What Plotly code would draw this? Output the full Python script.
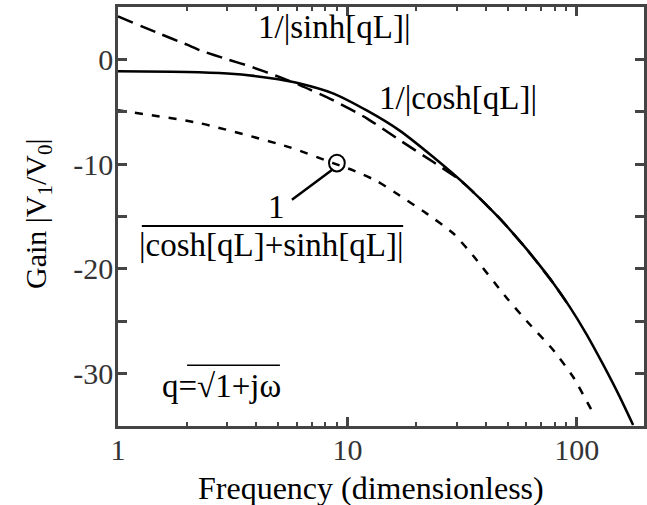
import math
import plotly.graph_objects as go

# ---- data ----
cosh_x = [1, 2, 3, 4, 5, 6.2, 8.65, 12.2, 16.9, 23.6, 33.2, 46.2, 59.3, 68, 78.6, 93, 110, 130, 153, 176]
cosh_y = [-1.14, -1.2, -1.35, -1.6, -1.9, -2.3, -3.24, -4.9, -6.8, -9.3, -12.1, -15.2, -17.9, -19.5, -21.3, -23.6, -26.2, -29.1, -32.1, -34.9]

sinh_x = [1, 1.5, 2, 2.28, 3, 3.76, 5.08, 6.2, 8.65, 12.2, 16.9, 23.6, 30, 33.2, 46.2, 59.3, 78.6, 93]
sinh_y = [4.1, 2.5, 1.4, 0.86, 0.0, -0.67, -1.7, -2.45, -3.9, -5.65, -7.71, -9.78, -11.3, -12.1, -15.2, -17.9, -21.3, -23.6]

sum_x = [1, 2.28, 5.62, 8.66, 10.6, 13.4, 16.9, 22.1, 28.9, 35.2, 49.6, 60.6, 78.6, 96.3, 117, 121]
sum_y = [-4.86, -6.1, -8.4, -9.9, -10.6, -11.6, -13.0, -14.7, -16.6, -18.7, -22.8, -25.0, -27.7, -30.3, -33.6, -34.0]

x_ticks = [1, 10, 100]
x_minor = [2, 3, 4, 5, 6, 7, 8, 9, 20, 30, 40, 50, 60, 70, 80, 90, 200]
y_ticks = [-30, -20, -10, 0]
y_minor = [-25, -15, -5]

XR = [0, 2.293]
YR = [-35, 5]

FONT = "Liberation Serif, Times New Roman, serif"
AX = "#444444"


def px(x):  # data x -> paper
    return (math.log10(x) - XR[0]) / (XR[1] - XR[0])


def py(y):  # data y -> paper
    return (y - YR[0]) / (YR[1] - YR[0])


fig = go.Figure()
fig.add_trace(go.Scatter(x=cosh_x, y=cosh_y, mode="lines", line=dict(color="black", width=2.5, shape="spline", smoothing=0.6), showlegend=False))
fig.add_trace(go.Scatter(x=sinh_x, y=sinh_y, mode="lines", line=dict(color="black", width=2.5, dash="16px,8px", shape="spline", smoothing=0.6), showlegend=False))
fig.add_trace(go.Scatter(x=sum_x, y=sum_y, mode="lines", line=dict(color="black", width=2.5, dash="8px,9px", shape="spline", smoothing=0.6), showlegend=False))
# empty trace so the top/right tick axes are drawn
fig.add_trace(go.Scatter(x=[], y=[], xaxis="x2", yaxis="y2", showlegend=False, hoverinfo="skip"))

axis_common = dict(showline=True, linecolor=AX, linewidth=2.5, ticks="inside",
                   tickcolor=AX, tickwidth=2.5, ticklen=9, showgrid=False, zeroline=False,
                   tickfont=dict(family=FONT, size=30, color="#333333"))

fig.update_layout(
    xaxis=dict(type="log", range=XR, tickvals=x_ticks, ticktext=[str(v) for v in x_ticks],
               minor=dict(tickvals=x_minor, ticks="inside", ticklen=4, tickcolor=AX, tickwidth=2),
               ticklabelstandoff=-5, **axis_common),
    yaxis=dict(range=YR, tickvals=y_ticks, ticktext=[str(v) for v in y_ticks],
               minor=dict(tickvals=y_minor, ticks="inside", ticklen=9, tickcolor=AX, tickwidth=2.5),
               ticklabelstandoff=-4, **axis_common),
    xaxis2=dict(type="log", range=XR, tickvals=x_ticks, overlaying="x", side="top", anchor="y2",
                showticklabels=False,
                minor=dict(tickvals=x_minor, ticks="inside", ticklen=4, tickcolor=AX, tickwidth=2),
                **axis_common),
    yaxis2=dict(range=YR, tickvals=y_ticks, overlaying="y", side="right", anchor="x2",
                showticklabels=False,
                minor=dict(tickvals=y_minor, ticks="inside", ticklen=9, tickcolor=AX, tickwidth=2.5),
                **axis_common),
)

# axis titles
fig.add_annotation(text="Frequency (dimensionless)", x=0.481, y=-0.148, xref="paper", yref="paper",
                   xanchor="center", yanchor="middle",
                   showarrow=False, font=dict(family=FONT, size=32, color="black"))
fig.add_annotation(text="Gain |V<sub>1</sub>/V<sub>0</sub>|", x=-0.152, y=0.506, xref="paper", yref="paper",
                   xanchor="center", yanchor="middle",
                   textangle=-90, showarrow=False, font=dict(family=FONT, size=30, color="black"))

ann_font = dict(family=FONT, size=33, color="black")
annots = [
    ("1/|sinh[qL]|", 8.8, 3.1),
    ("1/|cosh[qL]|", 30.5, -3.7),
    ("1", 4.93, -14.1),
    ("|cosh[qL]+sinh[qL]|", 4.69, -17.75),
    ("q=√1+jω", 2.84, -31.2),
]
for t, x, y in annots:
    fig.add_annotation(text=t, x=math.log10(x), y=y, xref="x", yref="y", showarrow=False,
                       xanchor="center", yanchor="middle", font=ann_font)

line_style = dict(color="black", width=2)
# fraction bar
fig.add_shape(type="line", xref="paper", yref="paper", x0=px(1.27), x1=px(17.5), y0=py(-15.9), y1=py(-15.9), line=line_style)
# pointer
fig.add_shape(type="line", xref="paper", yref="paper", x0=px(5.73), x1=px(8.65), y0=py(-13.4), y1=py(-10.5), line=dict(color="black", width=2.5))
# small ellipse
fig.add_shape(type="circle", xref="paper", yref="paper", x0=px(9.0) - 0.015, x1=px(9.0) + 0.015,
              y0=py(-9.9) - 0.02, y1=py(-9.9) + 0.02, line=dict(color="black", width=2))
# overline of sqrt
fig.add_shape(type="line", xref="paper", yref="paper", x0=px(2.0), x1=px(5.08), y0=py(-29.2), y1=py(-29.2), line=dict(color="black", width=1.5))

fig.update_layout(width=647, height=505, margin=dict(l=118, r=3, t=7, b=79),
                  plot_bgcolor="white", paper_bgcolor="white", showlegend=False)

fig.write_html("out.html", config={"displayModeBar": False},
               post_script="document.body.style.margin='0px';")
